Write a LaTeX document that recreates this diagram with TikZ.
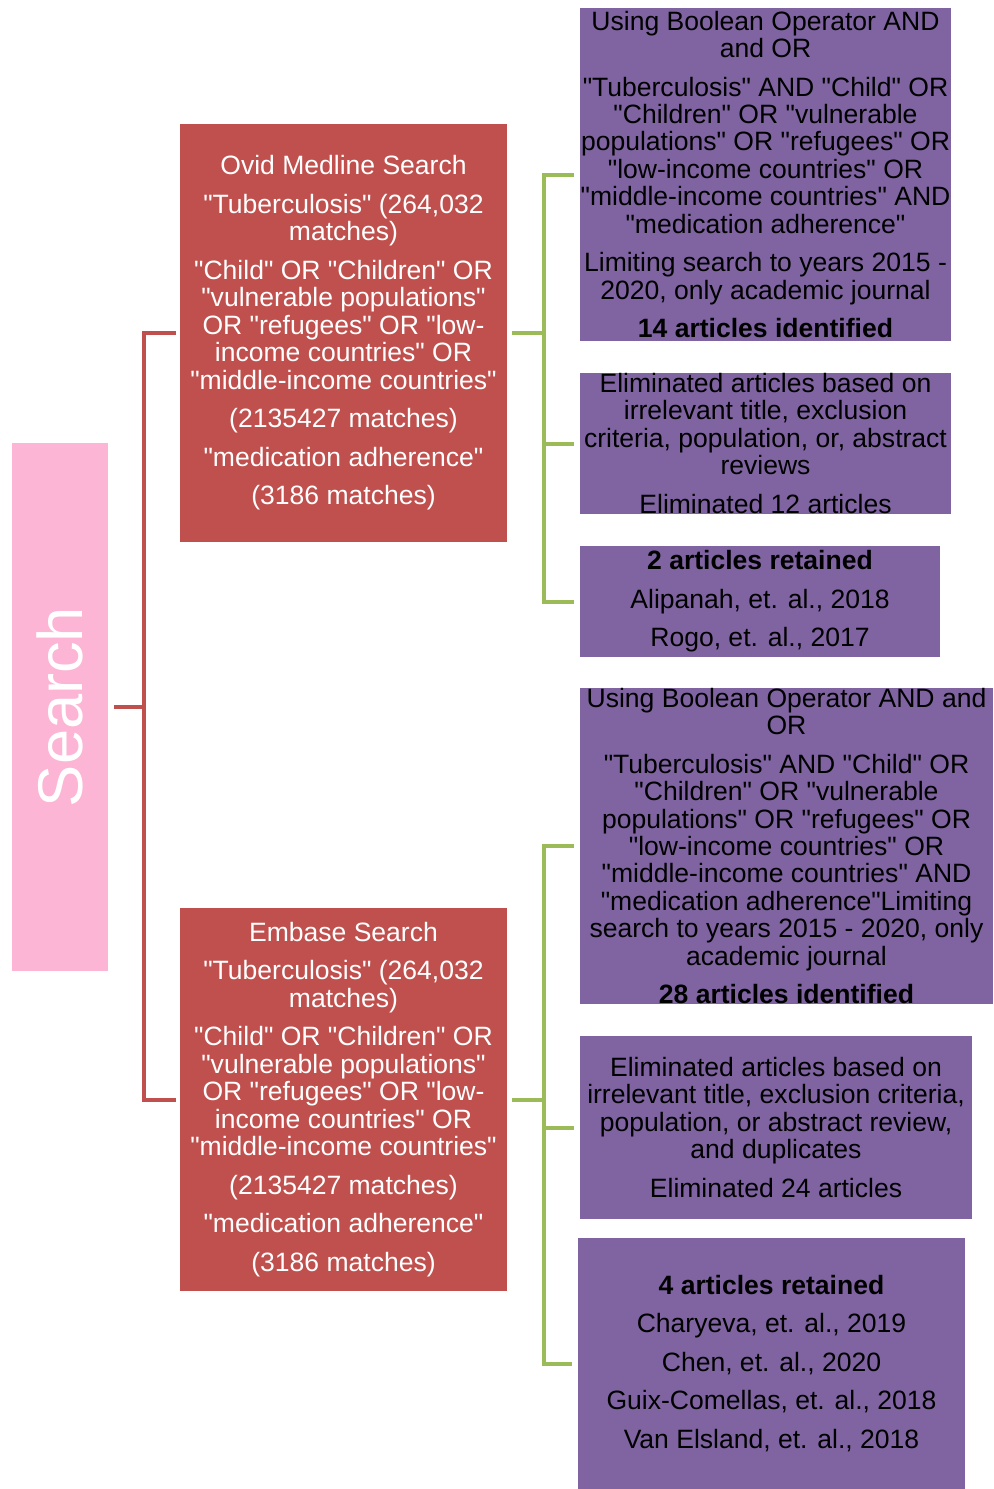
\documentclass[tikz,border=0pt]{standalone}
\usepackage{fontspec}
\setmainfont{Liberation Sans}[Ligatures=TeXOff]
\usepackage{tikz}
\definecolor{boxred}{HTML}{C0504D}
\definecolor{boxpurple}{HTML}{8064A2}
\definecolor{linegreen}{HTML}{9BBB59}
\definecolor{boxpink}{HTML}{FCB5D5}

\begin{document}
\begin{tikzpicture}[
            x=0.75pt, y=-0.75pt,
            redbox/.style={rectangle, fill=boxred, text=white, align=center, inner sep=0pt,
                font=\fontsize{19.9pt}{20.6pt}\selectfont},
            purplebox/.style={rectangle, fill=boxpurple, text=black, align=center, inner sep=0pt,
                font=\fontsize{19.9pt}{20.6pt}\selectfont},
            pinkbox/.style={rectangle, fill=boxpink, inner sep=0pt},
            redline/.style={draw=boxred, line width=3pt},
            greenline/.style={draw=linegreen, line width=3pt},
            ]
            \useasboundingbox (0,0) rectangle (993,1489);

            \node[pinkbox, minimum width=72pt, minimum height=396pt] (search) at (60,707) {};
            \node[text=white, rotate=90, font=\fontsize{47.4pt}{50pt}\selectfont] (searchlabel) at (search.center) {Search};

            \node[redbox, minimum width=245.25pt, minimum height=313.5pt] (ovid) at (343.5,333)
                {Ovid Medline Search\\[8.3pt]
                 "Tuberculosis" (264,032\\ matches)\\[8.3pt]
                 "Child" OR "Children" OR\\ "vulnerable populations"\\ OR "refugees" OR "low-\\ income countries" OR\\ "middle-income countries"\\[8.3pt]
                 (2135427 matches)\\[8.3pt]
                 "medication adherence"\\[8.3pt]
                 (3186 matches)};
            \node[redbox, minimum width=245.25pt, minimum height=287.25pt] (embase) at (343.5,1099.5)
                {Embase Search\\[8.3pt]
                 "Tuberculosis" (264,032\\ matches)\\[8.3pt]
                 "Child" OR "Children" OR\\ "vulnerable populations"\\ OR "refugees" OR "low-\\ income countries" OR\\ "middle-income countries"\\[8.3pt]
                 (2135427 matches)\\[8.3pt]
                 "medication adherence"\\[8.3pt]
                 (3186 matches)};

            \node[purplebox, minimum width=278.25pt, minimum height=249.75pt] (ovidquery) at (765.5,174.5)
                {Using Boolean Operator AND\\ and OR\\[8.3pt]
                 "Tuberculosis" AND "Child" OR\\ "Children" OR "vulnerable\\ populations" OR "refugees" OR\\ "low-income countries" OR\\ "middle-income countries" AND\\ "medication adherence"\\[8.3pt]
                 Limiting search to years 2015 -\\ 2020, only academic journal\\[8.3pt]
                 \textbf{14 articles identified}};
            \node[purplebox, minimum width=278.25pt, minimum height=105.75pt] (ovidelim) at (765.5,443.5)
                {Eliminated articles based on\\ irrelevant title, exclusion\\ criteria, population, or, abstract\\ reviews\\[8.3pt]
                 Eliminated 12 articles};
            \node[purplebox, minimum width=270pt, minimum height=83.25pt] (ovidkept) at (760,601.5)
                {\textbf{2 articles retained}\\[8.3pt]
                 Alipanah, et. al., 2018\\[8.3pt]
                 Rogo, et. al., 2017};

            \node[purplebox, minimum width=309.75pt, minimum height=235.5pt] (embasequery) at (786.5,846)
                {Using Boolean Operator AND and\\ OR\\[8.3pt]
                 "Tuberculosis" AND "Child" OR\\ "Children" OR "vulnerable\\ populations" OR "refugees" OR\\ "low-income countries" OR\\ "middle-income countries" AND\\ "medication adherence"Limiting\\ search to years 2015 - 2020, only\\ academic journal\\[8.3pt]
                 \textbf{28 articles identified}};
            \node[purplebox, minimum width=294pt, minimum height=137.25pt] (embaseelim) at (776,1127.5)
                {Eliminated articles based on\\ irrelevant title, exclusion criteria,\\ population, or abstract review,\\ and duplicates\\[8.3pt]
                 Eliminated 24 articles};
            \node[purplebox, minimum width=290.25pt, minimum height=188.25pt] (embasekept) at (771.5,1363.5)
                {\textbf{4 articles retained}\\[8.3pt]
                 Charyeva, et. al., 2019\\[8.3pt]
                 Chen, et. al., 2020\\[8.3pt]
                 Guix-Comellas, et. al., 2018\\[8.3pt]
                 Van Elsland, et. al., 2018};

            \coordinate (redsplit) at (144,707);
            \coordinate (ovidsplit) at (544,333);
            \coordinate (embasesplit) at (544,1099.5);

            \draw[redline, shorten <=4.5pt] (search.east) -- (redsplit);
            \draw[redline, shorten >=3pt] (redsplit) |- (ovid.west);
            \draw[redline, shorten >=3pt] (redsplit) |- (embase.west);

            \draw[greenline, shorten <=3.75pt] (ovid.east) -- (ovidsplit);
            \draw[greenline, shorten >=4.5pt] (ovidsplit) |- (ovidquery.west);
            \draw[greenline, shorten >=4.5pt] (ovidsplit) |- (ovidelim.west);
            \draw[greenline, shorten >=4.5pt] (ovidsplit) |- (ovidkept.west);

            \draw[greenline, shorten <=3.75pt] (embase.east) -- (embasesplit);
            \draw[greenline, shorten >=4.5pt] (embasesplit) |- (embasequery.west);
            \draw[greenline, shorten >=4.5pt] (embasesplit) |- (embaseelim.west);
            \draw[greenline, shorten >=4.5pt] (embasesplit) |- (embasekept.west);
        \end{tikzpicture}
\end{document}
